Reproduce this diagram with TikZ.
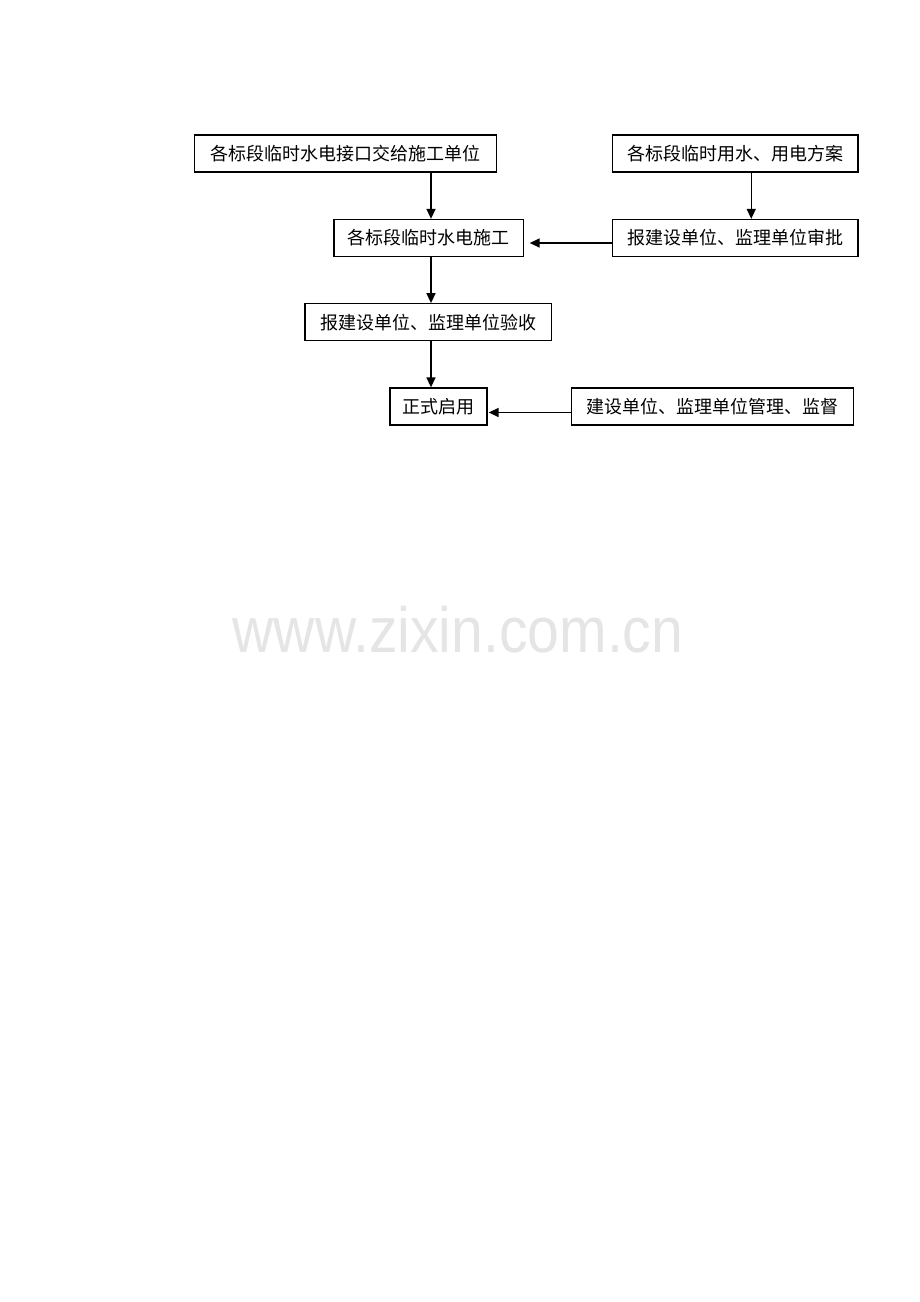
\documentclass[tikz,border=0pt]{standalone}
\usepackage{fontspec}
\newfontfamily\cjk{Noto Sans CJK SC}
\newfontfamily\markfont{Liberation Sans}
\usetikzlibrary{arrows.meta,positioning}
\tikzstyle{stage}=[rectangle,draw=black,line width=1.3pt,inner sep=0pt,minimum height=37pt,align=center,font=\cjk\fontsize{18}{18}\selectfont]

\begin{document}
\begin{tikzpicture}[>={Triangle[length=10pt,width=9pt]},x=1pt,y=-1pt,line width=1.5pt]
    \useasboundingbox (0,0) rectangle (920,1302);

    \node[stage, minimum width=302pt](handover) at (345.5,153.5){各标段临时水电接口交给施工单位};
    \node[stage, minimum width=245.5pt](plan) at (735.25,153.5){各标段临时用水、用电方案};

    \node[stage, minimum width=189.5pt](build) at (428.75,238){各标段临时水电施工};
    \node[stage, minimum width=245.5pt](approve)[below=46.2pt of plan]{报建设单位、监理单位审批};

    \node[stage, minimum width=246.5pt](accept) at (428.25,322.25){报建设单位、监理单位验收};

    \node[stage, minimum width=97pt](start) at (438.5,406.5){正式启用};
    \node[stage, minimum width=282pt](supervise) at (712.5,406.5){建设单位、监理单位管理、监督};

    \node[font=\markfont\fontsize{64}{64}\selectfont, text=black!10, xscale=0.892, anchor=base](mark) at (458,652){www.zixin.com.cn};

    \draw[->]([xshift=2.25pt]handover.south -| build.north) -- ([xshift=2.25pt]build.north);
    \draw[->]([xshift=16pt]plan.south) -- ([xshift=16pt]approve.north);
    \draw[->, shorten >=5.5pt]([yshift=-5pt]approve.west) -- ([yshift=-5pt]approve.west -| build.east);
    \draw[->]([xshift=2.25pt]build.south) -- ([xshift=2.25pt]build.south |- accept.north);
    \draw[->]([xshift=2.75pt]accept.south) -- ([xshift=2.75pt]accept.south |- start.north);
    \draw[->, shorten >=1pt]([yshift=-6pt]supervise.west) -- ([yshift=-6pt]supervise.west -| start.east);
  \end{tikzpicture}
\end{document}
